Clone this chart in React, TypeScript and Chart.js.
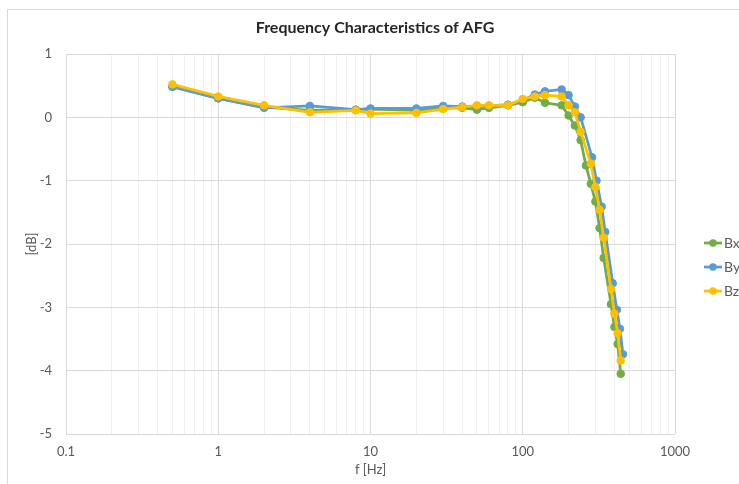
import React, { useEffect, useRef } from 'react';
import { Chart, registerables } from 'chart.js';

Chart.register(...registerables);

// ---- data ----
const bxFreq = [0.5, 1, 2, 4, 8, 10, 20, 30, 40, 50, 60, 80, 100, 120, 140, 180, 200, 220, 240, 260, 280, 300, 320, 340, 380, 400, 420, 440];
const bxDb = [0.49, 0.30, 0.16, 0.11, 0.12, 0.13, 0.11, 0.15, 0.15, 0.12, 0.15, 0.19, 0.24, 0.31, 0.23, 0.19, 0.03, -0.13, -0.36, -0.76, -1.05, -1.33, -1.75, -2.22, -2.95, -3.31, -3.58, -4.05];

const byFreq = [0.5, 1, 2, 4, 8, 10, 20, 30, 40, 50, 60, 80, 100, 120, 140, 180, 200, 220, 240, 285, 305, 330, 348, 390, 415, 435, 455];
const byDb = [0.48, 0.30, 0.15, 0.18, 0.12, 0.14, 0.14, 0.18, 0.17, 0.17, 0.18, 0.20, 0.27, 0.36, 0.41, 0.44, 0.35, 0.17, 0.00, -0.63, -1.00, -1.41, -1.81, -2.62, -3.04, -3.34, -3.74];

const bzFreq = [0.5, 1, 2, 4, 8, 10, 20, 30, 40, 50, 60, 80, 100, 120, 140, 180, 200, 220, 240, 280, 300, 320, 340, 380, 400, 420, 440];
const bzDb = [0.52, 0.33, 0.19, 0.08, 0.11, 0.06, 0.07, 0.13, 0.16, 0.19, 0.19, 0.19, 0.29, 0.33, 0.35, 0.33, 0.19, 0.08, -0.23, -0.73, -1.10, -1.46, -1.90, -2.71, -3.10, -3.41, -3.84];

const seriesNames = ['Bx', 'By', 'Bz'];
const seriesColors = ['#70AD47', '#5B9BD5', '#FFC000'];

const decadeTicks = [0.1, 1, 10, 100, 1000];
const yMin = -5;
const yMax = 1;

const titleText = 'Frequency Characteristics of AFG';
const xTitle = 'f [Hz]';
const yTitle = '[dB]';

// log grid positions (1..9 x 10^n)
const xGridValues: number[] = [];
for (let e = -1; e <= 2; e++) {
  for (let m = 1; m <= 9; m++) {
    xGridValues.push(parseFloat((m * Math.pow(10, e)).toPrecision(3)));
  }
}
xGridValues.push(1000);

const FONT = 'Lato, "Open Sans", sans-serif';
const TEXT = '#595959';

const frameAndLegend = {
  id: 'frameAndLegend',
  beforeDraw(chart: any) {
    const ctx = chart.ctx;
    ctx.save();
    ctx.fillStyle = '#ffffff';
    ctx.fillRect(0, 0, chart.width, chart.height);
    ctx.strokeStyle = '#d9d9d9';
    ctx.lineWidth = 1;
    ctx.strokeRect(7.5, 9.5, chart.width + 20, chart.height + 20);
    ctx.restore();
  },
  afterDraw(chart: any) {
    const ctx = chart.ctx;
    const x0 = chart.chartArea.right + 29;
    ctx.save();
    chart.data.datasets.forEach((ds: any, i: number) => {
      const y = chart.height / 2 + 1 + (i - 1) * 24 + 24;
      ctx.strokeStyle = ds.borderColor;
      ctx.lineWidth = 2.75;
      ctx.beginPath();
      ctx.moveTo(x0, y);
      ctx.lineTo(x0 + 18, y);
      ctx.stroke();
      ctx.fillStyle = ds.borderColor;
      ctx.beginPath();
      ctx.arc(x0 + 9, y, 3.8, 0, Math.PI * 2);
      ctx.fill();
      ctx.fillStyle = TEXT;
      ctx.font = '14px ' + FONT;
      ctx.textBaseline = 'middle';
      ctx.textAlign = 'left';
      ctx.fillText(ds.label, x0 + 20, y);
    });
    ctx.restore();
  },
};

export default function App() {
  const ref = useRef<HTMLCanvasElement | null>(null);

  useEffect(() => {
    if (!ref.current) return;
    const freqs = [bxFreq, byFreq, bzFreq];
    const vals = [bxDb, byDb, bzDb];
    const datasets = seriesNames.map((name, i) => ({
      label: name,
      data: freqs[i].map((f, k) => ({ x: f, y: vals[i][k] })),
      yAxisID: 'y',
      borderColor: seriesColors[i],
      backgroundColor: seriesColors[i],
      pointBackgroundColor: seriesColors[i],
      pointBorderColor: seriesColors[i],
      borderWidth: 2.75,
      pointRadius: 3.8,
      pointBorderWidth: 1,
      showLine: true,
      order: 2 - i,
    }));

    const chart = new Chart(ref.current, {
      type: 'scatter',
      data: { datasets },
      plugins: [frameAndLegend],
      options: {
        responsive: false,
        animation: false,
        layout: { padding: { left: 11, right: 0, top: 0, bottom: 0 } },
        plugins: {
          legend: { display: false },
          tooltip: { enabled: false },
          title: {
            display: true,
            text: titleText,
            color: '#262626',
            font: { family: FONT, size: 16, weight: 'bold', lineHeight: 1.2 },
            padding: { top: 18, bottom: 16.8 },
          },
        },
        scales: {
          x: {
            type: 'logarithmic',
            min: 0.1,
            max: 1000,
            afterBuildTicks: (scale: any) => {
              scale.ticks = xGridValues.map((v) => ({ value: v, major: decadeTicks.includes(v) }));
            },
            afterFit: (scale: any) => {
              scale.height = 50;
            },
            ticks: {
              autoSkip: false,
              maxRotation: 0,
              padding: 10,
              color: TEXT,
              font: { family: FONT, size: 13 },
              callback: (value: any) => (decadeTicks.includes(Number(value)) ? String(value) : ''),
            },
            grid: {
              drawTicks: false,
              color: (c: any) => (c.tick && decadeTicks.includes(c.tick.value) ? '#d9d9d9' : '#f0f0f0'),
            },
            border: { display: false },
            title: {
              display: true,
              text: xTitle,
              color: TEXT,
              font: { family: FONT, size: 13 },
              padding: { top: 0, bottom: 6 },
            },
          },
          y: {
            type: 'linear',
            position: 'left',
            min: yMin,
            max: yMax,
            afterFit: (scale: any) => {
              scale.width = 55;
            },
            ticks: {
              stepSize: 1,
              padding: 14,
              color: TEXT,
              font: { family: FONT, size: 13 },
            },
            grid: { drawTicks: false, color: '#d9d9d9' },
            border: { display: false },
            title: {
              display: true,
              text: yTitle,
              color: TEXT,
              font: { family: FONT, size: 13 },
              padding: { top: 13, bottom: 0 },
            },
          },
          yr: {
            type: 'linear',
            position: 'right',
            display: true,
            afterFit: (scale: any) => {
              scale.width = 64;
            },
            ticks: { display: false },
            grid: { display: false },
            border: { display: false },
          },
        },
      },
    } as any);
    return () => chart.destroy();
  }, []);

  return (
    <div style={{ position: 'fixed', left: 0, top: 0, width: 739, height: 484, background: '#fff' }}>
      <canvas ref={ref} width={739} height={484} />
    </div>
  );
}
